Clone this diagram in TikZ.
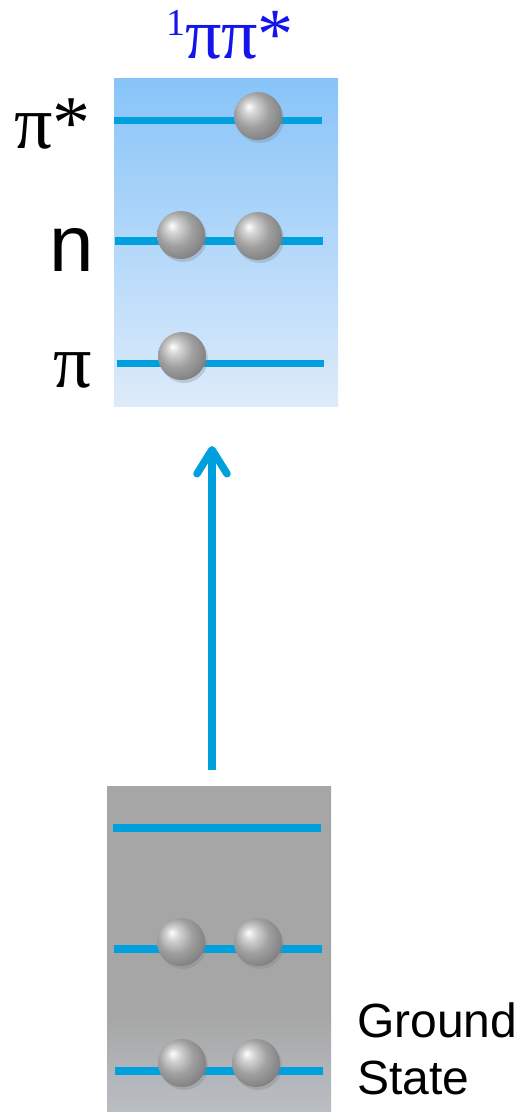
\documentclass[tikz,border=0pt]{standalone}
\usepackage{fontspec}
\setmainfont{Liberation Serif}
\setsansfont{Liberation Sans}
\usetikzlibrary{arrows.meta, shadows}
\definecolor{levelblue}{RGB}{0,160,222}
\definecolor{skytop}{RGB}{136,196,249}
\definecolor{skybot}{RGB}{221,235,250}
\definecolor{gsgray}{RGB}{166,166,166}
\definecolor{gsbot}{RGB}{218,230,246}
\definecolor{titleblue}{RGB}{20,20,235}
\pgfdeclareverticalshading{gsshade}{100bp}{color(0bp)=(gsbot); color(40bp)=(gsgray); color(100bp)=(gsgray)}
\pgfdeclareradialshading{electron}{\pgfpoint{-10bp}{10bp}}{color(0bp)=(white); color(7bp)=(gray!35!white);
  color(18bp)=(gray!75!white); color(28bp)=(gray!95!white); color(36bp)=(gray!80!black); color(50bp)=(gray!70!black)}

\begin{document}
\begin{tikzpicture}[x=1pt, y=-1pt,
  level/.style={levelblue, line width=7.5pt},
  elec/.style={circle, minimum size=48pt, inner sep=0pt, shading=electron,
               drop shadow={opacity=0.3, shadow xshift=2pt, shadow yshift=-3pt}},
  orb/.style={font=\fontsize{76}{76}\selectfont, inner sep=0pt},
  arr/.style={-{Straight Barb[length=24pt, width=30pt, round]}, levelblue, line width=7.5pt}
]
\useasboundingbox (0,0) rectangle (523,1112);

% excited state
\node[rectangle, inner sep=0pt, minimum width=224pt, minimum height=328pt,
      top color=skytop, bottom color=skybot] (exbox) at (226,242) {};
\node[anchor=base, text=titleblue, font=\fontsize{72}{72}\selectfont] (extitle) at (230,58)
  {\raisebox{23pt}{\fontsize{38}{38}\selectfont 1}ππ*};
\draw[level] (114,120.5) -- (322,120.5);
\draw[level] (115,241) -- (323,241);
\draw[level] (117,363.5) -- (324,363.5);
\node[orb, anchor=base east] (lpistar) at (91,148) {π*};
\node[orb, font=\sffamily\fontsize{80}{80}\selectfont, anchor=base east] (ln) at (94,271) {n};
\node[orb, anchor=base east] (lpi) at (92,387) {π};
\node[elec] (expistar) at (258,116) {};
\node[elec] (exn1) at (181,235) {};
\node[elec] (exn2) at (258,236) {};
\node[elec] (expi) at (182,356) {};

% ground state
\node[rectangle, inner sep=0pt, minimum width=224pt, minimum height=326pt,
      shading=gsshade] (gsbox) at (219,949) {};
\draw[level] (113,828) -- (321,828);
\draw[level] (114,949) -- (322,949);
\draw[level] (115,1071) -- (323,1071);
\node[elec] (gsn1) at (181,942) {};
\node[elec] (gsn2) at (258,942) {};
\node[elec] (gspi1) at (182,1063) {};
\node[elec] (gspi2) at (256,1063) {};
\node[font=\sffamily\fontsize{48}{57}\selectfont, align=left, anchor=north west, inner sep=0pt]
  (gslabel) at (357,1003) {Ground\\State};

% excitation
\coordinate (arrfoot) at (212,770);
\coordinate (arrtip) at (212,446);
\draw[arr] (arrfoot) -- (arrtip);
\end{tikzpicture}
\end{document}
